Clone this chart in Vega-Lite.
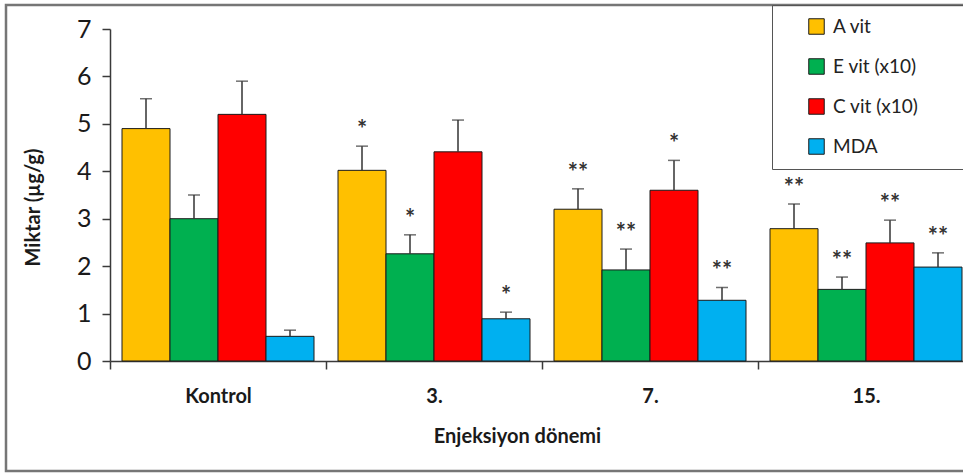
{
  "$schema": "https://vega.github.io/schema/vega-lite/v6.json",
  "width": 960,
  "height": 466,
  "autosize": {"type": "none"},
  "padding": {"left": 6, "top": 5, "right": -3, "bottom": 4},
  "background": "white",
  "config": {
    "view": {"stroke": "#767676", "strokeWidth": 2.5},
    "font": "Lato"
  },
  "data": {
    "values": [
      {"donem": "Kontrol", "seri": "A vit", "deger": 4.9, "ust": 5.53, "yildiz": ""},
      {"donem": "Kontrol", "seri": "E vit (x10)", "deger": 3.0, "ust": 3.5, "yildiz": ""},
      {"donem": "Kontrol", "seri": "C vit (x10)", "deger": 5.2, "ust": 5.9, "yildiz": ""},
      {"donem": "Kontrol", "seri": "MDA", "deger": 0.52, "ust": 0.65, "yildiz": ""},
      {"donem": "3.", "seri": "A vit", "deger": 4.02, "ust": 4.53, "yildiz": "*"},
      {"donem": "3.", "seri": "E vit (x10)", "deger": 2.26, "ust": 2.66, "yildiz": "*"},
      {"donem": "3.", "seri": "C vit (x10)", "deger": 4.41, "ust": 5.08, "yildiz": ""},
      {"donem": "3.", "seri": "MDA", "deger": 0.89, "ust": 1.03, "yildiz": "*"},
      {"donem": "7.", "seri": "A vit", "deger": 3.2, "ust": 3.63, "yildiz": "**"},
      {"donem": "7.", "seri": "E vit (x10)", "deger": 1.92, "ust": 2.36, "yildiz": "**"},
      {"donem": "7.", "seri": "C vit (x10)", "deger": 3.6, "ust": 4.23, "yildiz": "*"},
      {"donem": "7.", "seri": "MDA", "deger": 1.28, "ust": 1.55, "yildiz": "**"},
      {"donem": "15.", "seri": "A vit", "deger": 2.79, "ust": 3.31, "yildiz": "**"},
      {"donem": "15.", "seri": "E vit (x10)", "deger": 1.51, "ust": 1.77, "yildiz": "**"},
      {"donem": "15.", "seri": "C vit (x10)", "deger": 2.49, "ust": 2.97, "yildiz": "**"},
      {"donem": "15.", "seri": "MDA", "deger": 1.98, "ust": 2.28, "yildiz": "**"}
    ]
  },
  "encoding": {
    "x": {
      "field": "donem",
      "type": "nominal",
      "sort": ["Kontrol", "3.", "7.", "15."],
      "scale": {"range": [104, 968], "paddingInner": 0, "paddingOuter": 0},
      "axis": {
        "title": "Enjeksiyon dönemi",
        "offset": -110,
        "labelAngle": 0,
        "labelFont": "Lato",
        "labelFontSize": 20,
        "labelFontWeight": "bold",
        "labelColor": "#1a1a1a",
        "labelPadding": 17,
        "labelDx": -6,
        "tickBand": "extent",
        "tickSize": 8,
        "tickColor": "#3a3a3a",
        "tickWidth": 1.5,
        "domainColor": "#3a3a3a",
        "domainWidth": 1.5,
        "titleFont": "Lato",
        "titleFontSize": 20,
        "titleFontWeight": "bold",
        "titleColor": "#1a1a1a",
        "titleX": 511,
        "titleY": 75,
        "titleBaseline": "middle",
        "titleAlign": "center"
      }
    },
    "xOffset": {
      "field": "seri",
      "type": "nominal",
      "sort": ["A vit", "E vit (x10)", "C vit (x10)", "MDA"],
      "scale": {"paddingInner": 0, "paddingOuter": 0.25}
    }
  },
  "layer": [
    {
      "mark": {"type": "bar", "stroke": "#1a1a1a", "strokeWidth": 1},
      "encoding": {
        "y": {
          "field": "deger",
          "type": "quantitative",
          "scale": {"domain": [0, 7], "range": [356, 24]},
          "axis": {
            "title": "Miktar (µg/g)",
            "offset": -104,
            "values": [0, 1, 2, 3, 4, 5, 6, 7],
            "format": "d",
            "grid": false,
            "labelFont": "Lato",
            "labelFontSize": 25,
            "labelColor": "#1a1a1a",
            "labelPadding": 11,
            "tickSize": 8,
            "tickColor": "#3a3a3a",
            "tickWidth": 1.5,
            "domainColor": "#3a3a3a",
            "domainWidth": 1.5,
            "titleFont": "Lato",
            "titleFontSize": 20,
            "titleFontWeight": "bold",
            "titleColor": "#1a1a1a",
            "titleX": -77,
            "titleY": 202,
            "titleAngle": -90,
            "titleBaseline": "middle",
            "titleAlign": "center"
          }
        },
        "color": {
          "field": "seri",
          "type": "nominal",
          "sort": ["A vit", "E vit (x10)", "C vit (x10)", "MDA"],
          "scale": {
            "domain": ["A vit", "E vit (x10)", "C vit (x10)", "MDA"],
            "range": ["#FFC000", "#00B050", "#FF0000", "#00B0F0"]
          },
          "legend": {
            "title": null,
            "orient": "none",
            "legendX": 766,
            "legendY": 0,
            "padding": 12,
            "symbolOffset": 23,
            "symbolType": "square",
            "symbolSize": 240,
            "symbolStrokeColor": "#1a1a1a",
            "symbolStrokeWidth": 1,
            "labelFont": "Lato",
            "labelFontSize": 19,
            "labelColor": "#222222",
            "labelOffset": 7,
            "labelLimit": 400,
            "rowPadding": 19,
            "strokeColor": "#555555",
            "labelExpr": "datum.label + '                        \u200b'"
          }
        }
      }
    },
    {
      "mark": {"type": "rule", "color": "#333333", "strokeWidth": 1.5},
      "encoding": {
        "y": {"field": "deger", "type": "quantitative"},
        "y2": {"field": "ust"}
      }
    },
    {
      "mark": {"type": "tick", "color": "#333333", "thickness": 1.5, "size": 12, "orient": "horizontal"},
      "encoding": {
        "y": {"field": "ust", "type": "quantitative"}
      }
    },
    {
      "mark": {"type": "text", "fontSize": 24, "fontWeight": "bold", "color": "#333333", "baseline": "middle", "dy": -15},
      "encoding": {
        "y": {"field": "ust", "type": "quantitative"},
        "text": {"field": "yildiz"}
      }
    }
  ]
}
